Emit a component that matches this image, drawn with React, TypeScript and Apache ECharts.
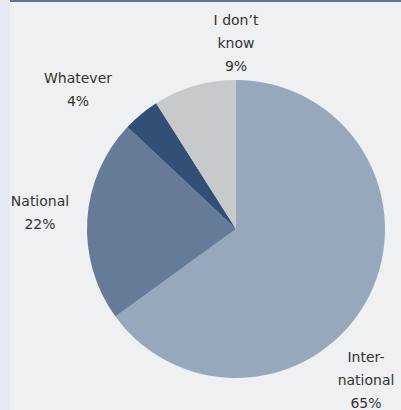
import React, { useEffect, useRef } from "react";
import * as echarts from "echarts";

const categories = ["Inter-\nnational", "National", "Whatever", "I don\u2019t\nknow"];
const values = [65, 22, 4, 9];
const colors = ["#98a8bc", "#667b98", "#334f75", "#c8c9cb"];
const labelPos: [number, number][] = [[366, 380], [40, 212], [78, 89], [236, 43]];

export default function App() {
  const ref = useRef<HTMLDivElement>(null);
  useEffect(() => {
    const chart = echarts.init(ref.current!, undefined, { renderer: "svg" });
    const labels = categories.map((c, i) => ({
      type: "text",
      x: labelPos[i][0],
      y: labelPos[i][1],
      silent: true,
      style: {
        text: `${c}\n${values[i]}%`,
        fontFamily: "DejaVu Sans",
        fontSize: 14,
        lineHeight: 23,
        fill: "#333333",
        align: "center",
        verticalAlign: "middle",
      },
    }));
    chart.setOption({
      animation: false,
      backgroundColor: "#eff0f2",
      graphic: [
        { type: "rect", shape: { x: 0, y: 0, width: 10, height: 410 }, style: { fill: "#e6eaf4" } },
        { type: "rect", shape: { x: 10, y: 0, width: 391, height: 2 }, style: { fill: "#5b72a0" } },
        ...labels,
      ],
      series: [
        {
          type: "pie",
          center: [236, 229],
          radius: 149,
          startAngle: 90,
          clockwise: true,
          silent: true,
          data: categories.map((c, i) => ({ name: c, value: values[i], itemStyle: { color: colors[i] } })),
          label: { show: false },
          labelLine: { show: false },
        },
      ],
    });
    return () => chart.dispose();
  }, []);
  return <div ref={ref} style={{ position: "fixed", left: 0, top: 0, width: 401, height: 410 }} />;
}
